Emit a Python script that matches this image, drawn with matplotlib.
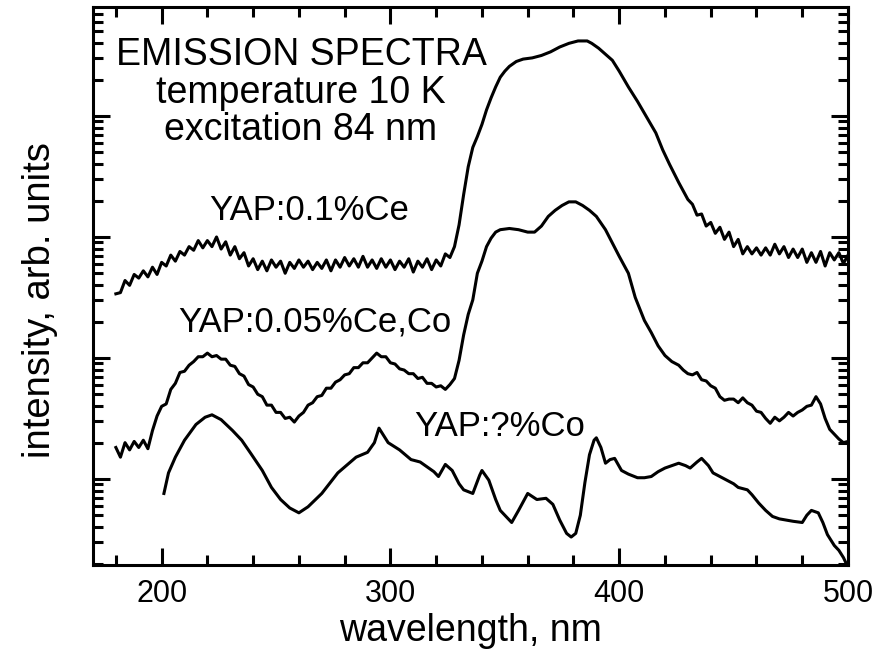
import numpy as np
import matplotlib
matplotlib.use("Agg")
import matplotlib.pyplot as plt
from matplotlib.ticker import MultipleLocator, LogLocator, NullFormatter

plt.rcParams['font.family'] = ['Liberation Sans', 'DejaVu Sans']

# values are log10(intensity), arb. units
# YAP:0.1%Ce
ce01_wl = np.concatenate([
    np.arange(180, 328, 2),
    [328, 330, 332, 334, 336, 338, 340, 342, 344, 346, 348, 350, 352, 355, 358,
     362, 366, 370, 374, 378, 382, 386, 388, 391, 394, 397, 400, 404, 408, 412,
     416, 419, 422, 426],
    np.arange(430, 502, 2)])
ce01_log = [
    1.53, 1.54, 1.64, 1.60, 1.69, 1.66, 1.72, 1.67, 1.75, 1.69,
    1.79, 1.76, 1.85, 1.80, 1.88, 1.85, 1.92, 1.89, 1.97, 1.91,
    1.97, 1.92, 2.00, 1.90, 1.96, 1.85, 1.92, 1.82, 1.87, 1.76,
    1.82, 1.73, 1.80, 1.72, 1.81, 1.75, 1.80, 1.70, 1.79, 1.74,
    1.81, 1.75, 1.80, 1.73, 1.79, 1.74, 1.81, 1.72, 1.81, 1.75,
    1.83, 1.76, 1.82, 1.75, 1.84, 1.75, 1.81, 1.74, 1.82, 1.75,
    1.81, 1.73, 1.80, 1.75, 1.82, 1.71, 1.80, 1.75, 1.82, 1.73,
    1.81, 1.76, 1.86, 1.83,
    1.92, 2.10, 2.35, 2.58, 2.74, 2.83, 2.93, 3.05, 3.15, 3.24, 3.32, 3.37,
    3.41, 3.45, 3.47, 3.48, 3.50, 3.53, 3.57, 3.60, 3.62, 3.62, 3.60, 3.56,
    3.51, 3.46, 3.37, 3.24, 3.12, 2.99, 2.86, 2.72, 2.60, 2.45,
    2.31, 2.27, 2.18, 2.19, 2.09, 2.12, 2.03, 2.08, 1.98, 2.04,
    1.92, 1.98, 1.86, 1.92, 1.86, 1.91, 1.85, 1.91, 1.85, 1.94,
    1.86, 1.92, 1.83, 1.90, 1.83, 1.90, 1.79, 1.87, 1.79, 1.88,
    1.76, 1.87, 1.81, 1.87, 1.78, 1.85]

# YAP:0.05%Ce,Co
ceco_wl = np.concatenate([
    np.arange(180, 330, 2),
    [330, 332, 334, 336, 338, 340, 342, 344, 346, 348, 352, 356, 360, 363, 366,
     369, 372, 375, 378, 381, 384, 387, 390, 394, 397, 400, 404, 407, 411, 414,
     417, 420, 423, 426, 428],
    np.arange(430, 502, 2)])
ceco_log = [
    0.26, 0.18, 0.30, 0.24, 0.31, 0.26, 0.32, 0.25, 0.40, 0.52,
    0.60, 0.62, 0.74, 0.79, 0.88, 0.89, 0.94, 0.97, 1.01, 1.01,
    1.04, 1.01, 1.02, 0.99, 0.99, 0.94, 0.93, 0.87, 0.85, 0.78,
    0.76, 0.70, 0.68, 0.61, 0.61, 0.55, 0.55, 0.50, 0.51, 0.47,
    0.52, 0.55, 0.61, 0.63, 0.68, 0.69, 0.75, 0.75, 0.80, 0.82,
    0.86, 0.87, 0.92, 0.92, 0.96, 0.96, 1.00, 1.04, 1.01, 1.01,
    0.96, 0.95, 0.91, 0.90, 0.87, 0.87, 0.83, 0.84, 0.79, 0.79,
    0.76, 0.77, 0.74, 0.78, 0.83,
    0.98, 1.19, 1.36, 1.48, 1.70, 1.80, 1.92, 1.99, 2.04, 2.06, 2.07, 2.06,
    2.04, 2.04, 2.09, 2.17, 2.22, 2.26, 2.29, 2.29, 2.26, 2.22, 2.17, 2.06,
    1.95, 1.84, 1.70, 1.50, 1.31, 1.21, 1.10, 1.02, 0.97, 0.94, 0.90,
    0.87, 0.86, 0.88, 0.82, 0.81, 0.77, 0.75, 0.68, 0.65, 0.66,
    0.66, 0.63, 0.67, 0.63, 0.61, 0.56, 0.55, 0.50, 0.46, 0.51,
    0.48, 0.51, 0.55, 0.52, 0.55, 0.57, 0.60, 0.61, 0.68, 0.62,
    0.50, 0.41, 0.37, 0.33, 0.30, 0.31]

# YAP:?%Co
co_wl = [201, 203, 206, 210, 215, 219, 222, 226, 231, 235, 239, 244, 248, 252,
         256, 260, 264, 270, 277, 285, 290, 293, 295, 297, 299, 304, 309, 313,
         316, 319, 321, 324, 327, 330, 332, 336, 339, 340, 343, 346, 348, 351,
         353, 356, 360, 364, 368, 371, 374, 377, 379, 381, 383, 385, 387, 389,
         390, 392, 394, 396, 398, 401, 404, 408, 411, 414, 417, 420, 423, 426,
         429, 431, 434, 436, 439, 441, 444, 447, 450, 452, 456, 458, 461, 464,
         467, 470, 473, 476, 480, 482, 484, 487, 489, 491, 494, 496, 498, 499, 500]
co_log = [-0.12, 0.05, 0.18, 0.32, 0.45, 0.51, 0.53, 0.49, 0.40, 0.32, 0.21,
          0.07, -0.07, -0.17, -0.24, -0.28, -0.23, -0.12, 0.05, 0.18, 0.22,
          0.30, 0.42, 0.36, 0.30, 0.24, 0.16, 0.14, 0.10, 0.06, 0.02, 0.12,
          0.07, -0.04, -0.09, -0.12, 0.03, 0.07, -0.01, -0.17, -0.26, -0.32,
          -0.36, -0.26, -0.12, -0.17, -0.16, -0.21, -0.34, -0.45, -0.48, -0.45,
          -0.30, -0.03, 0.20, 0.32, 0.34, 0.26, 0.13, 0.16, 0.17, 0.07, 0.04,
          0.01, 0.01, 0.02, 0.06, 0.09, 0.11, 0.13, 0.11, 0.09, 0.14, 0.17,
          0.11, 0.05, 0.02, -0.01, -0.04, -0.07, -0.09, -0.13, -0.20, -0.26,
          -0.31, -0.33, -0.34, -0.35, -0.36, -0.30, -0.26, -0.28, -0.36, -0.46,
          -0.55, -0.59, -0.65, -0.69, -0.72]

fig = plt.figure(figsize=(8.89, 6.5), dpi=100)
ax = fig.add_axes([0.1046, 0.1308, 0.8493, 0.8585])

for wl, lg in [(ce01_wl, ce01_log), (ceco_wl, ceco_log), (co_wl, co_log)]:
    ax.plot(wl, 10 ** np.asarray(lg), color='black', lw=2.2)

ax.set_yscale('log')
ax.set_xlim(170, 500)
ax.set_ylim(0.1945, 7960)

ax.xaxis.set_major_locator(MultipleLocator(100))
ax.xaxis.set_minor_locator(MultipleLocator(20))
ax.yaxis.set_major_locator(LogLocator(base=10))
ax.yaxis.set_minor_locator(LogLocator(base=10, subs=np.arange(2, 10)))
ax.yaxis.set_minor_formatter(NullFormatter())
ax.tick_params(which='both', direction='in', top=True, right=True,
               labelleft=False, width=2.2)
ax.tick_params(which='major', length=12.5, labelsize=22, pad=10)
ax.tick_params(which='minor', length=7.5)
for s in ax.spines.values():
    s.set_linewidth(2.2)

fig.text(0.5298, 0.0138, 'wavelength, nm', ha='center', va='baseline', fontsize=27)
fig.text(50 / 889, 0.538, 'intensity, arb. units', rotation=90, rotation_mode='anchor',
         ha='center', va='baseline', fontsize=27.5)

kw = dict(transform=ax.transAxes, ha='center', va='baseline')
ax.text(0.2755, 0.896, 'EMISSION SPECTRA', fontsize=27, **kw)
ax.text(0.2755, 0.828, 'temperature 10 K', fontsize=27, **kw)
ax.text(0.2755, 0.762, 'excitation 84 nm', fontsize=27, **kw)
ax.text(0.286, 0.618, 'YAP:0.1%Ce', fontsize=25, **kw)
ax.text(0.294, 0.419, 'YAP:0.05%Ce,Co', fontsize=25, **kw)
ax.text(0.538, 0.231, 'YAP:?%Co', fontsize=25, **kw)

fig.savefig('out.png', dpi=100)
